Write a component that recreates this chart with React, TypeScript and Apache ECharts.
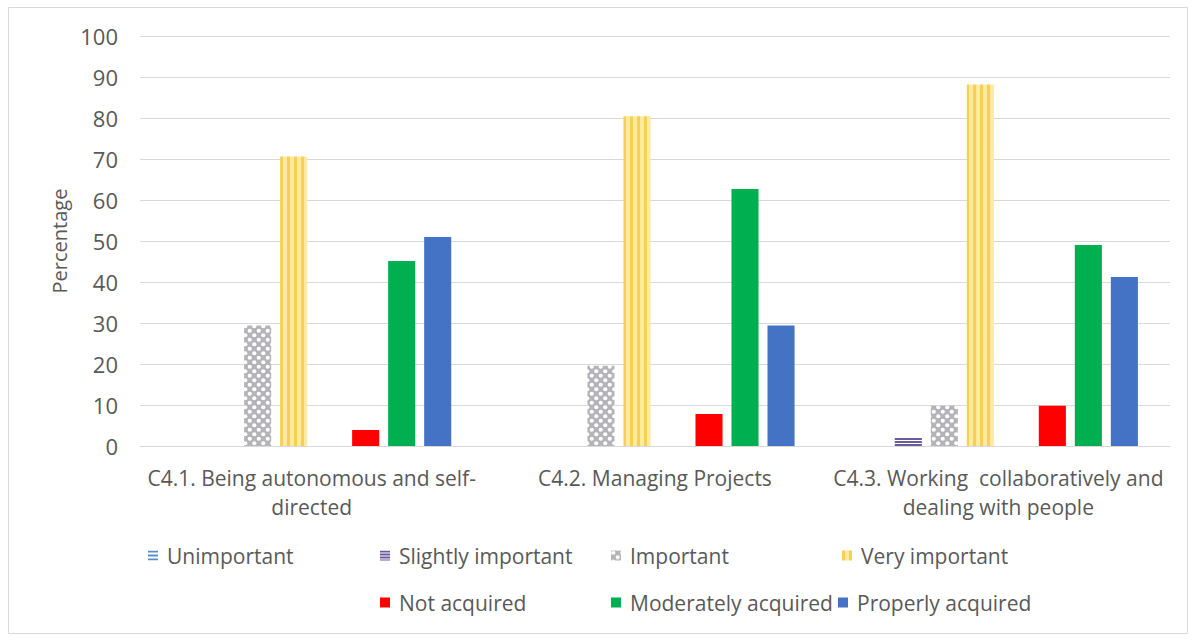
import React, { useEffect, useRef } from "react";
import * as echarts from "echarts";

const categories = [
  "C4.1. Being autonomous and self-\ndirected",
  "C4.2. Managing Projects",
  "C4.3. Working  collaboratively and\ndealing with people",
];
const unimportant = [0, 0, 0];
const slightlyImportant = [0, 0, 2.0];
const important = [29.4, 19.6, 9.8];
const veryImportant = [70.6, 80.4, 88.2];
const blankSeries = [null, null, null];
const notAcquired = [3.9, 7.8, 9.8];
const moderatelyAcquired = [45.1, 62.7, 49.0];
const properlyAcquired = [51.0, 29.4, 41.2];
const yMin = 0;
const yMax = 100;
const yStep = 10;

const FONT = "Open Sans";
const TXT = "#595959";

function makePattern(w: number, h: number, draw: (ctx: CanvasRenderingContext2D) => void) {
  const c = document.createElement("canvas");
  c.width = w;
  c.height = h;
  const ctx = c.getContext("2d")!;
  draw(ctx);
  return { image: c, repeat: "repeat", imageWidth: w, imageHeight: h } as any;
}

export default function App() {
  const ref = useRef<HTMLDivElement>(null);
  useEffect(() => {
    if (!ref.current) return;
    const chart = echarts.init(ref.current, undefined, { renderer: "svg" });

    const unimpPat = makePattern(4, 4, (ctx) => {
      ctx.fillStyle = "#ffffff";
      ctx.fillRect(0, 0, 4, 4);
      ctx.fillStyle = "#5b8fc9";
      ctx.fillRect(0, 0, 4, 2);
    });
    const slightPat = makePattern(3, 3, (ctx) => {
      ctx.fillStyle = "#ffffff";
      ctx.fillRect(0, 0, 3, 3);
      ctx.fillStyle = "#6a5aa0";
      ctx.fillRect(0, 0, 3, 2);
    });
    const impPat = makePattern(9, 9, (ctx) => {
      ctx.fillStyle = "#b4b4b8";
      ctx.fillRect(0, 0, 9, 9);
      ctx.fillStyle = "#ffffff";
      ctx.beginPath();
      ctx.arc(2.25, 2.25, 2.1, 0, Math.PI * 2);
      ctx.fill();
      ctx.beginPath();
      ctx.arc(6.75, 6.75, 2.1, 0, Math.PI * 2);
      ctx.fill();
    });
    const vimpPat = makePattern(7, 7, (ctx) => {
      ctx.fillStyle = "#fdeaa0";
      ctx.fillRect(0, 0, 7, 7);
      ctx.fillStyle = "#f6cf55";
      ctx.fillRect(0, 0, 3, 7);
    });

    const mk = (name: string, data: any[], color: any) => ({
      type: "bar",
      name,
      data,
      itemStyle: { color },
      barGap: "33%",
      barCategoryGap: "18.7%",
    });

    const legendItems = [
      { name: "Unimportant", x: 148, y: 558 },
      { name: "Slightly important", x: 380, y: 558 },
      { name: "Important", x: 611, y: 558 },
      { name: "Very important", x: 842, y: 558 },
      { name: "Not acquired", x: 380, y: 605 },
      { name: "Moderately acquired", x: 611, y: 605 },
      { name: "Properly acquired", x: 838, y: 605 },
    ];

    chart.setOption({
      animation: false,
      backgroundColor: "#ffffff",
      graphic: [
        {
          type: "rect",
          shape: { x: 8.5, y: 7.5, width: 1179, height: 626 },
          style: { fill: "none", stroke: "#d9d9d9", lineWidth: 1 },
          silent: true,
        },
      ],
      grid: { left: 140, right: 23, top: 36, bottom: 195 },
      legend: legendItems.map((it) => ({
        data: [it.name],
        left: it.x,
        top: it.y - 13,
        padding: 0,
        itemWidth: 10,
        itemHeight: 10,
        icon: "rect",
        selectedMode: false,
        textStyle: { fontFamily: FONT, fontSize: 21, color: TXT, padding: [0, 0, 0, 4] },
      })),
      xAxis: {
        type: "category",
        data: categories,
        axisTick: { show: false },
        axisLine: { lineStyle: { color: "#d9d9d9" } },
        axisLabel: {
          fontFamily: FONT,
          fontSize: 21,
          color: TXT,
          lineHeight: 29,
          margin: 17,
          interval: 0,
        },
      },
      yAxis: {
        type: "value",
        min: yMin,
        max: yMax,
        interval: yStep,
        name: "Percentage",
        nameLocation: "middle",
        nameRotate: 90,
        nameGap: 70,
        nameTextStyle: { fontFamily: FONT, fontSize: 20, color: TXT },
        axisLine: { show: false },
        axisTick: { show: false },
        splitLine: { lineStyle: { color: "#d9d9d9" } },
        axisLabel: { fontFamily: FONT, fontSize: 22, color: TXT, margin: 22 },
      },
      series: [
        mk("Unimportant", unimportant, unimpPat),
        mk("Slightly important", slightlyImportant, slightPat),
        mk("Important", important, impPat),
        mk("Very important", veryImportant, vimpPat),
        mk("blank", blankSeries, "rgba(0,0,0,0)"),
        mk("Not acquired", notAcquired, "#ff0000"),
        mk("Moderately acquired", moderatelyAcquired, "#00b050"),
        mk("Properly acquired", properlyAcquired, "#4472c4"),
      ],
    });
    return () => chart.dispose();
  }, []);
  return (
    <div
      ref={ref}
      style={{ position: "fixed", left: 0, top: 0, width: 1193, height: 641 }}
    />
  );
}
